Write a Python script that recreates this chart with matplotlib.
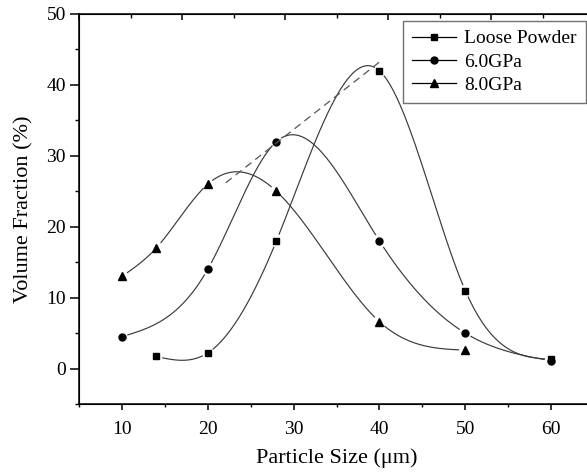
import numpy as np
import matplotlib
matplotlib.use("Agg")
import matplotlib.pyplot as plt
from matplotlib.lines import Line2D
from matplotlib.ticker import MultipleLocator, FixedLocator

plt.rcParams['font.family'] = ['Liberation Serif', 'DejaVu Serif']
plt.rcParams['mathtext.fontset'] = 'stix'

# ---- data ----
loose_x = [14, 20, 28, 40, 50, 60]
loose_y = [1.7, 2.2, 18.0, 42.0, 11.0, 1.3]
gpa6_x = [10, 20, 28, 40, 50, 60]
gpa6_y = [4.5, 14.0, 32.0, 18.0, 5.0, 1.1]
gpa8_x = [10, 14, 20, 28, 40, 50]
gpa8_y = [13.0, 17.0, 26.0, 25.0, 6.6, 2.6]
series_labels = ["Loose Powder", "6.0GPa", "8.0GPa"]
series_markers = ["s", "o", "^"]
tangent_x = [22.1, 40.4]
tangent_y = [26.2, 43.6]
xticks = [10, 20, 30, 40, 50, 60]
yticks = [0, 10, 20, 30, 40, 50]


def natural_spline(x, y, n=400):
    x = np.asarray(x, float); y = np.asarray(y, float)
    k = len(x)
    h = np.diff(x)
    A = np.zeros((k, k)); b = np.zeros(k)
    A[0, 0] = 1; A[-1, -1] = 1
    for i in range(1, k - 1):
        A[i, i - 1] = h[i - 1]
        A[i, i] = 2 * (h[i - 1] + h[i])
        A[i, i + 1] = h[i]
        b[i] = 6 * ((y[i + 1] - y[i]) / h[i] - (y[i] - y[i - 1]) / h[i - 1])
    M = np.linalg.solve(A, b)
    xs = np.linspace(x[0], x[-1], n)
    idx = np.clip(np.searchsorted(x, xs) - 1, 0, k - 2)
    x0 = x[idx]; x1 = x[idx + 1]; hh = x1 - x0
    t0 = x1 - xs; t1 = xs - x0
    ys = (M[idx] * t0 ** 3 / (6 * hh) + M[idx + 1] * t1 ** 3 / (6 * hh)
          + (y[idx] / hh - M[idx] * hh / 6) * t0
          + (y[idx + 1] / hh - M[idx + 1] * hh / 6) * t1)
    return xs, ys


W, H = 587, 472
fig = plt.figure(figsize=(W / 100, H / 100), dpi=100)
ax = fig.add_axes([79 / W, (H - 404) / H, (594 - 79) / W, (404 - 14) / H])
ax.set_xlim(5, 65)
ax.set_ylim(-5, 50)

line_col = '#3a3a3a'
gap_px = 5.5
handles = []
for xs_, ys_, mk, lab in zip([loose_x, gpa6_x, gpa8_x], [loose_y, gpa6_y, gpa8_y],
                             series_markers, series_labels):
    sx, sy = natural_spline(xs_, ys_)
    disp = ax.transData.transform(np.column_stack([sx, sy]))
    pts = ax.transData.transform(np.column_stack([xs_, ys_]))
    d = np.min(np.hypot(disp[:, None, 0] - pts[None, :, 0],
                        disp[:, None, 1] - pts[None, :, 1]), axis=1)
    sy_m = np.where(d < gap_px, np.nan, sy)
    ax.plot(sx, sy_m, color=line_col, lw=0.85, solid_capstyle='butt')
    ms = {'s': 4.0, 'o': 5.0, '^': 5.2}[mk]
    ax.plot(xs_, ys_, linestyle='none', marker=mk, color='black', markersize=ms)
    handles.append(Line2D([], [], color='black', lw=0.9, marker=mk, markersize=ms))

ax.plot(tangent_x, tangent_y, color='#555555', lw=0.9, dashes=(6, 4))

for s in ax.spines.values():
    s.set_linewidth(1.1)
ax.xaxis.set_major_locator(FixedLocator(xticks))
ax.xaxis.set_minor_locator(MultipleLocator(5))
ax.yaxis.set_major_locator(FixedLocator(yticks))
ax.yaxis.set_minor_locator(MultipleLocator(5))
ax.tick_params(axis='x', which='major', direction='out', length=4.5, width=1.1,
               labelsize=14, pad=8, top=False)
ax.tick_params(axis='x', which='minor', direction='out', length=2.5, width=1.0, top=False)
ax.tick_params(axis='y', which='major', direction='out', length=6.5, width=1.1,
               labelsize=14, pad=3, right=False)
ax.tick_params(axis='y', which='minor', direction='out', length=3.2, width=1.0, right=False)

top = ax.twiny()
top.set_xlim(ax.get_xlim())
top.xaxis.set_major_locator(MultipleLocator(12, offset=5))
top.xaxis.set_minor_locator(MultipleLocator(12, offset=11))
top.tick_params(axis='x', which='major', direction='in', length=4, width=1.1, labeltop=False)
top.tick_params(axis='x', which='minor', direction='in', length=3, width=1.0)

ax.set_xlabel('Particle Size (μm)', fontsize=16, labelpad=7)
ax.set_ylabel('Volume Fraction (%)', fontsize=16, labelpad=9)

leg = ax.legend(handles, series_labels, loc='upper left',
                bbox_to_anchor=(403 / W, (H - 21) / H), bbox_transform=fig.transFigure,
                fontsize=14, frameon=True, fancybox=False, framealpha=1,
                edgecolor='#707070', handlelength=2.3, handletextpad=0.4,
                labelspacing=0.3, borderpad=0.45, borderaxespad=0)
leg.get_frame().set_linewidth(1.0)
leg._legend_box.align = 'left'

fig.savefig('out.png', dpi=100)
